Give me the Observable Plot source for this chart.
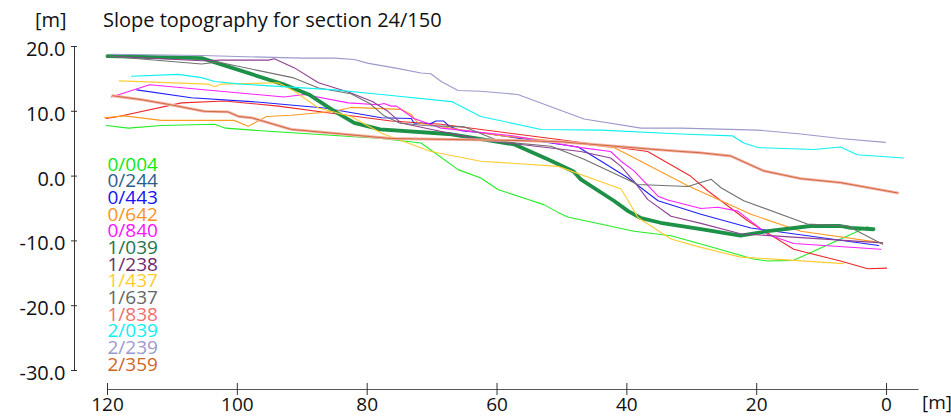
<!DOCTYPE html>
<html>
<head>
<meta charset="utf-8">
<script src="https://cdn.jsdelivr.net/npm/d3@7"></script>
<script src="https://cdn.jsdelivr.net/npm/@observablehq/plot@0.6"></script>
<style>
  html, body { margin: 0; padding: 0; background: #fff; }
  body { width: 951px; height: 420px; overflow: hidden; font-family: "Open Sans", sans-serif; }
  #header { position: relative; height: 36px; }
  #header span { position: absolute; top: 9.5px; line-height: 20px; font-size: 20px; color: #111; white-space: nowrap; }
  #chart svg { display: block; }
</style>
</head>
<body>
<div id="header"><span id="yunit"></span><span id="title"></span></div>
<div id="chart"></div>
<script>
// ---- text ----
const titleText = "Slope topography for section 24/150";
const yUnit = "[m]";
const xUnit = "[m]";

// ---- axes ----
const xDomain = [120, -5];
const yDomain = [-30, 20];
const xTicks = [120, 100, 80, 60, 40, 20, 0];
const yTicks = [20, 10, 0, -10, -20, -30];

// ---- series (legend order) ----
const seriesNames = ["0/004", "0/244", "0/443", "0/642", "0/840", "1/039", "1/238", "1/437", "1/637", "1/838", "2/039", "2/239", "2/359"];
const legendColors = ["#12e812", "#2a5f8a", "#1212f0", "#f7941d", "#ff10ff", "#22744a", "#6e2a6e", "#ffcc33", "#666666", "#f07070", "#10f0f0", "#9a9acc", "#d0661e"];
const lineColors   = ["#22ee22", "#f02828", "#2020ff", "#ff9a22", "#ff20ff", "#1e9148", "#8f3e91", "#ffcc33", "#707070", "#f6b0aa", "#10f0f0", "#9a9acc", "#c8642a"];
const lineWidths   = [1.1, 1.1, 1.1, 1.1, 1.1, 3.8, 1.1, 1.1, 1.1, 2.8, 1.1, 1.1, 0.9];

// each series: [distance, elevation]
const s0_004 = [[120.2,7.8],[116.8,7.4],[111.7,7.8],[103.5,8],[101.8,7.4],[96.3,7],[77.8,5.8],[71.7,5.1],[66,1],[62.5,-0.3],[59.8,-2.1],[55.2,-3.6],[52.8,-4.4],[50.6,-5.6],[49.1,-6.3],[38.9,-8.5],[33.2,-9.2],[27.5,-10.8],[20.5,-12.8],[18.3,-13.1],[14.3,-13],[2.9,-7.8]];
const s0_244 = [[120.2,8.9],[118.3,9.2],[108.6,11.3],[102,11.6],[93.7,10.8],[85.5,9.7],[76.3,8.5],[68.6,8],[50.2,5.6],[36.8,3.8],[30.2,0],[27.5,-2.3],[21.4,-6.9],[14.3,-11.3],[7.1,-13.1],[2.9,-14.3],[0,-14.2]];
const s0_443 = [[115.5,13.3],[107.1,12.1],[97.8,11.5],[86.6,10.5],[77.8,9],[73.2,8.9],[72.8,8.2],[70.2,8.1],[69.4,8.5],[68.2,8.5],[67.4,7.7],[65.5,7],[62.5,6.7],[47.5,4.5],[39.8,-0.3],[35.2,-3.8],[28.6,-5.9],[20.9,-8],[1.2,-10.7]];
const s0_642 = [[120.5,9],[117.4,9.3],[111.7,8.6],[100.5,8.6],[98.3,7.7],[95.5,9.2],[91.7,9.4],[85,10],[82.5,10.6],[74.8,10.3],[73.2,9.5],[72.2,8.2],[60,6.3],[47.1,5],[42,4.4],[39.8,3.3],[30.6,-1.5],[20.9,-5.9],[13.2,-8.5],[0.6,-10.3]];
const s0_840 = [[119.4,12.2],[113.5,14.1],[92.8,12.2],[89.7,12.6],[82.9,11.3],[78.3,11],[77.4,11.2],[76.3,10.8],[75.5,10.8],[72.8,8.9],[68.6,7.4],[57.4,6.2],[47.1,4.4],[42.5,3.8],[40.9,2.3],[38.9,0.8],[35.2,-3.1],[33.7,-3.7],[28.6,-5],[26,-4.8],[22.9,-5.4],[18.3,-9],[14.3,-10.4],[0.9,-11.3]];
const s1_039 = [[120,18.5],[105.5,18.2],[93,14.2],[89,12.6],[85,10],[82,8.2],[78,7.2],[67.5,6.5],[57.4,4.9],[52.2,2.6],[48.2,0.7],[47.1,-0.5],[42,-3.8],[39.8,-5.4],[37.8,-6.5],[34.8,-7.2],[28.6,-8.2],[22.5,-9.2],[18.3,-8.5],[11.7,-7.7],[7.1,-7.7],[5.5,-8],[2,-8.2]];
const s1_238 = [[119.6,18.5],[105.5,17.8],[102.5,17.9],[95.2,17.9],[94.3,18.1],[91.2,16.7],[87.5,14.4],[82.7,12.9],[79.2,11.5],[76.8,10],[74.8,8.2],[62.5,5.6],[47.1,3.8],[42.5,2.8],[40.9,1.5],[38.9,-0.8],[36.8,-3.6],[33.2,-6.2],[28.6,-7.3],[22.5,-8.9],[0.6,-10.3]];
const s1_437 = [[118.2,14.7],[104.5,14.2],[103.5,13.8],[102.5,14.2],[93.7,14.4],[91.2,13.1],[87.5,10.5],[82.5,9.2],[77.8,6.6],[70.2,3.8],[62.5,2.3],[50.6,1.5],[40.9,-2],[39.8,-3.8],[38.3,-6.4],[33.2,-9.7],[28.6,-11],[22.5,-12.5],[14.3,-13],[6.6,-13.5]];
const s1_637 = [[119.8,18.5],[105.5,17.3],[103,17.6],[91.5,15.2],[87.5,13.6],[82.5,12.7],[79.6,11.2],[77.4,9.3],[75,8.2],[71.2,7.8],[65.1,7.6],[59.4,5.3],[51.7,4.6],[49.1,3.6],[46.6,2.6],[38.3,-1.3],[30.6,-1.6],[27,-0.5],[25.5,-1.8],[22,-3.8],[12.2,-7.4],[6,-7.7],[0.6,-10.5]];
const s1_838 = [[119.2,12.4],[114.8,11.8],[110.8,11.1],[105.1,10],[101.4,9.9],[99.8,9.2],[97.8,9],[91.7,7.2],[76.3,5.8],[57.4,5.5],[50.2,5.3],[36.8,4.2],[31.7,3.8],[28.6,3.6],[24,3.1],[18.9,0.8],[13.2,-0.4],[7.1,-1],[-1.7,-2.6]];
const s2_039 = [[116.3,15.4],[109.1,15.7],[105.5,15.2],[103.5,14.6],[99.4,14.2],[85,13.3],[77.8,12.6],[67,11.5],[62.5,9.2],[53.2,7.2],[44,7.1],[31.7,6.5],[23.7,6.2],[22,5.1],[19.8,4.4],[11.2,4.1],[7.1,4.5],[4.5,3.3],[-2.6,2.8]];
const s2_239 = [[119.4,18.8],[105.5,18.6],[90,18.2],[85,18.2],[82,18],[79.8,17.4],[75.8,16.7],[71.7,15.9],[70.2,15.8],[68.6,14.6],[66,13.2],[62.5,13.1],[56.8,12.6],[46.6,8.8],[37.8,7.4],[31.7,7.4],[19.8,7.1],[13.2,6.5],[7.1,5.8],[0.2,5.2]];
const s2_359 = [[119.2,12.4],[114.8,11.8],[110.8,11.1],[105.1,10],[101.4,9.9],[99.8,9.2],[97.8,9],[91.7,7.2],[76.3,5.8],[57.4,5.5],[50.2,5.3],[36.8,4.2],[31.7,3.8],[28.6,3.6],[24,3.1],[18.9,0.8],[13.2,-0.4],[7.1,-1],[-1.7,-2.6]];

const seriesData = [s0_004, s0_244, s0_443, s0_642, s0_840, s1_039, s1_238, s1_437, s1_637, s1_838, s2_039, s2_239, s2_359];

// ---- header ----
document.getElementById("yunit").textContent = yUnit;
document.getElementById("yunit").style.left = "35px";
document.getElementById("title").textContent = titleText;
document.getElementById("title").style.left = "103px";

// ---- chart ----
const legendStep = 16.67;
const legendTop = 118;
const fmtY = d => d.toFixed(1);   // hyphen-minus as in the reference

const lineMarks = seriesData.map((pts, i) => Plot.line(pts, {
  x: d => d[0], y: d => d[1],
  stroke: lineColors[i], strokeWidth: lineWidths[i],
  strokeLinejoin: "round", strokeLinecap: "round"
}));

const legendMarks = seriesNames.map((name, i) => Plot.text([name], {
  text: d => d,
  frameAnchor: "top-left", textAnchor: "start", lineAnchor: "middle",
  dx: 33, dy: legendTop + i * legendStep,
  fill: legendColors[i], fontSize: 19
}));

const chart = Plot.plot({
  width: 951, height: 384,
  marginTop: 10, marginBottom: 31, marginLeft: 74, marginRight: 32.5,
  style: { fontFamily: "Open Sans", color: "#111", background: "#fff" },
  x: { domain: xDomain, insetLeft: 33 },
  y: { domain: yDomain, insetBottom: 19 },
  marks: [
    // axis lines
    Plot.ruleX([xDomain[0]], { y1: yDomain[0], y2: yDomain[1], dx: -33, stroke: "#333", strokeWidth: 1 }),
    Plot.ruleY([yDomain[0]], { x1: xDomain[0], x2: xDomain[1], dy: 19, stroke: "#555", strokeWidth: 1.2 }),
    // y ticks & labels
    Plot.axisY({ ticks: yTicks, tickSize: 6, dx: 3, tickFormat: () => "", label: null, stroke: "#333" }),
    Plot.axisY({ ticks: yTicks, tickSize: 0, tickPadding: 9, dy: 3, tickFormat: fmtY, label: null, fontSize: 20 }),
    // x ticks & labels
    Plot.axisX({ ticks: xTicks, tickSize: 12, dy: -6, tickFormat: () => "", label: null, stroke: "#333" }),
    Plot.axisX({ ticks: xTicks, tickSize: 0, tickPadding: 8, tickFormat: d => String(d), label: null, fontSize: 19 }),
    Plot.text([xUnit], { text: d => d, frameAnchor: "bottom-right", textAnchor: "start", lineAnchor: "top", dx: 3, dy: 6, fontSize: 19, fill: "#111" }),
    ...lineMarks,
    ...legendMarks
  ]
});
document.getElementById("chart").appendChild(chart);
</script>
</body>
</html>
